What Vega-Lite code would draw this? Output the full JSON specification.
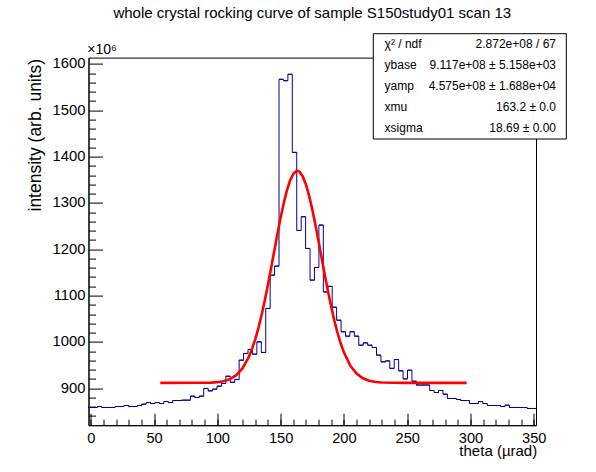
{
  "$schema": "https://vega.github.io/schema/vega-lite/v6.json",
  "width": 447.5,
  "height": 367.6,
  "autosize": {"type": "none"},
  "padding": {"left": 88.5, "top": 57.6, "right": 60, "bottom": 46.8},
  "background": "white",
  "title": {
    "text": "whole crystal rocking curve of sample S150study01 scan 13",
    "font": "Liberation Sans", "fontSize": 15, "fontWeight": "normal", "color": "black",
    "anchor": "middle", "frame": "group", "baseline": "alphabetic", "offset": 0
  },
  "config": {
    "view": {"stroke": "black", "strokeWidth": 1},
    "font": "Liberation Sans"
  },
  "datasets": {
    "hist": [
      {"lo": -1.75, "hi": 1.75, "v": 858.5}, {"lo": 1.75, "hi": 5.25, "v": 858.5}, {"lo": 5.25, "hi": 8.75, "v": 860.6},
      {"lo": 8.75, "hi": 12.25, "v": 858.5}, {"lo": 12.25, "hi": 15.75, "v": 858.5}, {"lo": 15.75, "hi": 19.25, "v": 858.5},
      {"lo": 19.25, "hi": 22.75, "v": 860.6}, {"lo": 22.75, "hi": 26.25, "v": 860.6}, {"lo": 26.25, "hi": 29.75, "v": 862.8},
      {"lo": 29.75, "hi": 33.25, "v": 860.6}, {"lo": 33.25, "hi": 36.75, "v": 860.6}, {"lo": 36.75, "hi": 40.25, "v": 862.8},
      {"lo": 40.25, "hi": 43.75, "v": 865.7}, {"lo": 43.75, "hi": 47.25, "v": 869.2}, {"lo": 47.25, "hi": 50.75, "v": 867.1},
      {"lo": 50.75, "hi": 54.25, "v": 869.2}, {"lo": 54.25, "hi": 57.75, "v": 867.1}, {"lo": 57.75, "hi": 61.25, "v": 871.4},
      {"lo": 61.25, "hi": 64.75, "v": 869.2}, {"lo": 64.75, "hi": 68.25, "v": 873.6}, {"lo": 68.25, "hi": 71.75, "v": 873.6},
      {"lo": 71.75, "hi": 75.25, "v": 874.3}, {"lo": 75.25, "hi": 78.75, "v": 874.3}, {"lo": 78.75, "hi": 82.25, "v": 883.0},
      {"lo": 82.25, "hi": 85.75, "v": 880.1}, {"lo": 85.75, "hi": 89.25, "v": 883.0}, {"lo": 89.25, "hi": 92.75, "v": 899.6},
      {"lo": 92.75, "hi": 96.25, "v": 894.4}, {"lo": 96.25, "hi": 99.75, "v": 898.1}, {"lo": 99.75, "hi": 103.25, "v": 904.5},
      {"lo": 103.25, "hi": 106.75, "v": 910.3}, {"lo": 106.75, "hi": 110.25, "v": 926.0}, {"lo": 110.25, "hi": 113.75, "v": 913.0},
      {"lo": 113.75, "hi": 117.25, "v": 919.0}, {"lo": 117.25, "hi": 120.75, "v": 960.7}, {"lo": 120.75, "hi": 124.25, "v": 975.2},
      {"lo": 124.25, "hi": 127.75, "v": 983.8}, {"lo": 127.75, "hi": 131.25, "v": 973.7}, {"lo": 131.25, "hi": 134.75, "v": 1000.2},
      {"lo": 134.75, "hi": 138.25, "v": 977.3}, {"lo": 138.25, "hi": 141.75, "v": 1072.3}, {"lo": 141.75, "hi": 145.25, "v": 1144.3},
      {"lo": 145.25, "hi": 148.75, "v": 1163.7}, {"lo": 148.75, "hi": 152.25, "v": 1566.9}, {"lo": 152.25, "hi": 155.75, "v": 1564.0},
      {"lo": 155.75, "hi": 159.25, "v": 1577.7}, {"lo": 159.25, "hi": 162.75, "v": 1409.2}, {"lo": 162.75, "hi": 166.25, "v": 1240.7},
      {"lo": 166.25, "hi": 169.75, "v": 1270.2}, {"lo": 169.75, "hi": 173.25, "v": 1201.8}, {"lo": 173.25, "hi": 176.75, "v": 1133.5},
      {"lo": 176.75, "hi": 180.25, "v": 1160.8}, {"lo": 180.25, "hi": 183.75, "v": 1252.3}, {"lo": 183.75, "hi": 187.25, "v": 1108.0},
      {"lo": 187.25, "hi": 190.75, "v": 1120.0}, {"lo": 190.75, "hi": 194.25, "v": 1075.0}, {"lo": 194.25, "hi": 197.75, "v": 1047.0},
      {"lo": 197.75, "hi": 201.25, "v": 1022.0}, {"lo": 201.25, "hi": 204.75, "v": 1012.5}, {"lo": 204.75, "hi": 208.25, "v": 1022.0},
      {"lo": 208.25, "hi": 211.75, "v": 1012.5}, {"lo": 211.75, "hi": 215.25, "v": 993.0}, {"lo": 215.25, "hi": 218.75, "v": 998.0},
      {"lo": 218.75, "hi": 222.25, "v": 993.0}, {"lo": 222.25, "hi": 225.75, "v": 988.0}, {"lo": 225.75, "hi": 229.25, "v": 971.5},
      {"lo": 229.25, "hi": 232.75, "v": 957.0}, {"lo": 232.75, "hi": 236.25, "v": 959.0}, {"lo": 236.25, "hi": 239.75, "v": 943.0},
      {"lo": 239.75, "hi": 243.25, "v": 962.0}, {"lo": 243.25, "hi": 246.75, "v": 937.6}, {"lo": 246.75, "hi": 250.25, "v": 920.3},
      {"lo": 250.25, "hi": 253.75, "v": 939.0}, {"lo": 253.75, "hi": 257.25, "v": 915.3}, {"lo": 257.25, "hi": 260.75, "v": 907.0},
      {"lo": 260.75, "hi": 264.25, "v": 907.0}, {"lo": 264.25, "hi": 267.75, "v": 907.0}, {"lo": 267.75, "hi": 271.25, "v": 895.2},
      {"lo": 271.25, "hi": 274.75, "v": 890.9}, {"lo": 274.75, "hi": 278.25, "v": 895.2}, {"lo": 278.25, "hi": 281.75, "v": 887.3},
      {"lo": 281.75, "hi": 285.25, "v": 878.0}, {"lo": 285.25, "hi": 288.75, "v": 878.0}, {"lo": 288.75, "hi": 292.25, "v": 875.8},
      {"lo": 292.25, "hi": 295.75, "v": 873.6}, {"lo": 295.75, "hi": 299.25, "v": 873.6}, {"lo": 299.25, "hi": 302.75, "v": 867.1},
      {"lo": 302.75, "hi": 306.25, "v": 867.1}, {"lo": 306.25, "hi": 309.75, "v": 871.4}, {"lo": 309.75, "hi": 313.25, "v": 867.1},
      {"lo": 313.25, "hi": 316.75, "v": 862.8}, {"lo": 316.75, "hi": 320.25, "v": 862.8}, {"lo": 320.25, "hi": 323.75, "v": 862.8},
      {"lo": 323.75, "hi": 327.25, "v": 860.6}, {"lo": 327.25, "hi": 330.75, "v": 863.5}, {"lo": 330.75, "hi": 334.25, "v": 858.5},
      {"lo": 334.25, "hi": 337.75, "v": 858.5}, {"lo": 337.75, "hi": 341.25, "v": 858.5}, {"lo": 341.25, "hi": 344.75, "v": 858.5},
      {"lo": 344.75, "hi": 348.25, "v": 856.4}, {"lo": 348.25, "hi": 351.75, "v": 856.4}
    ],
    "fit": [
      {"t": 55, "f": 911.7}, {"t": 85, "f": 911.8}, {"t": 95, "f": 912.3}, {"t": 100, "f": 913.2},
      {"t": 105, "f": 915.3}, {"t": 110, "f": 919.7}, {"t": 115, "f": 928.2}, {"t": 120, "f": 943.4},
      {"t": 125, "f": 968.4}, {"t": 127.5, "f": 985.5}, {"t": 130, "f": 1006.2}, {"t": 132.5, "f": 1030.4},
      {"t": 135, "f": 1058.3}, {"t": 137.5, "f": 1089.4}, {"t": 140, "f": 1123.4}, {"t": 142.5, "f": 1159.5},
      {"t": 145, "f": 1196.5}, {"t": 147.5, "f": 1233.2}, {"t": 150, "f": 1268.2}, {"t": 152.5, "f": 1300.0},
      {"t": 155, "f": 1327.2}, {"t": 157.5, "f": 1348.4}, {"t": 160, "f": 1362.5}, {"t": 162.5, "f": 1368.9},
      {"t": 163.2, "f": 1369.2}, {"t": 165, "f": 1367.1}, {"t": 167.5, "f": 1357.3}, {"t": 170, "f": 1339.9},
      {"t": 172.5, "f": 1315.9}, {"t": 175, "f": 1286.5}, {"t": 177.5, "f": 1253.1}, {"t": 180, "f": 1217.2},
      {"t": 182.5, "f": 1180.1}, {"t": 185, "f": 1143.4}, {"t": 187.5, "f": 1108.2}, {"t": 190, "f": 1075.3},
      {"t": 192.5, "f": 1045.6}, {"t": 195, "f": 1019.3}, {"t": 197.5, "f": 996.6}, {"t": 200, "f": 977.6},
      {"t": 205, "f": 949.2}, {"t": 210, "f": 931.6}, {"t": 215, "f": 921.5}, {"t": 220, "f": 916.2},
      {"t": 225, "f": 913.6}, {"t": 230, "f": 912.5}, {"t": 240, "f": 911.8}, {"t": 250, "f": 911.7},
      {"t": 297, "f": 911.7}
    ],
    "stats": [
      {"k": "χ² / ndf", "val": "2.872e+08 / 67"},
      {"k": "ybase", "val": "9.117e+08 ± 5.158e+03"},
      {"k": "yamp", "val": "4.575e+08 ± 1.688e+04"},
      {"k": "xmu", "val": "163.2 ± 0.0"},
      {"k": "xsigma", "val": "18.69 ± 0.00"}
    ]
  },
  "resolve": {"axis": {"x": "independent", "y": "independent"}},
  "layer": [
    {
      "data": {"name": "hist"},
      "mark": {"type": "line", "interpolate": "step-after", "color": "#000099", "strokeWidth": 1},
      "encoding": {
        "x": {
          "field": "lo", "type": "quantitative",
          "scale": {"domain": [-1.75, 351.75], "nice": false, "zero": false},
          "axis": {
            "orient": "bottom", "values": [0, 50, 100, 150, 200, 250, 300, 350], "format": "d",
            "tickSize": -12, "tickColor": "black", "tickWidth": 1, "domainColor": "black",
            "labelFont": "Liberation Sans", "labelFontSize": 14.6, "labelColor": "black",
            "labelPadding": 16.8, "labelFlush": false, "labelOverlap": false, "grid": false,
            "title": "theta (µrad)", "titleFont": "Liberation Sans", "titleFontSize": 15,
            "titleFontWeight": "normal", "titleColor": "black", "titleX": 448.2, "titleY": 30,
            "titleAlign": "right", "titleBaseline": "alphabetic"
          }
        },
        "y": {
          "field": "v", "type": "quantitative",
          "scale": {"domain": [820.3, 1613.8], "nice": false, "zero": false},
          "axis": {
            "orient": "left", "values": [900, 1000, 1100, 1200, 1300, 1400, 1500, 1600], "format": "d",
            "tickSize": -14, "tickColor": "black", "tickWidth": 1, "domainColor": "black",
            "labelFont": "Liberation Sans", "labelFontSize": 14.8, "labelColor": "black",
            "labelPadding": 17.5, "labelFlush": false, "labelOverlap": false, "grid": false,
            "title": "intensity (arb. units)", "titleFont": "Liberation Sans", "titleFontSize": 17.5,
            "titleFontWeight": "normal", "titleColor": "black", "titleAngle": 270,
            "titleX": -48.5, "titleY": 0.7, "titleAlign": "right", "titleBaseline": "alphabetic"
          }
        }
      }
    },
    {
      "data": {"name": "hist"},
      "mark": {"type": "rule", "color": "#000099", "strokeWidth": 1},
      "encoding": {
        "x": {
          "field": "lo", "type": "quantitative",
          "axis": {
            "orient": "bottom", "values": [0, 10, 20, 30, 40, 50, 60, 70, 80, 90, 100, 110, 120, 130, 140, 150, 160, 170, 180, 190, 200, 210, 220, 230, 240, 250, 260, 270, 280, 290, 300, 310, 320, 330, 340, 350],
            "tickSize": -6, "tickColor": "black", "tickWidth": 1, "labels": false, "domain": false,
            "grid": false, "title": null
          }
        },
        "x2": {"field": "hi"},
        "y": {
          "field": "v", "type": "quantitative",
          "axis": {
            "orient": "left", "values": [840, 860, 880, 920, 940, 960, 980, 1020, 1040, 1060, 1080, 1120, 1140, 1160, 1180, 1220, 1240, 1260, 1280, 1320, 1340, 1360, 1380, 1420, 1440, 1460, 1480, 1520, 1540, 1560, 1580],
            "tickSize": -7, "tickColor": "black", "tickWidth": 1, "labels": false, "domain": false,
            "grid": false, "title": "×10⁶", "titleFont": "Liberation Sans", "titleFontSize": 14,
            "titleFontWeight": "normal", "titleColor": "black", "titleAngle": 0,
            "titleX": -1.8, "titleY": -4.6, "titleAlign": "left", "titleBaseline": "alphabetic"
          }
        }
      }
    },
    {
      "data": {"name": "fit"},
      "mark": {"type": "line", "color": "#ff0000", "strokeWidth": 2.6},
      "encoding": {
        "x": {"field": "t", "type": "quantitative", "axis": null},
        "y": {"field": "f", "type": "quantitative", "axis": null}
      }
    },
    {
      "data": {"name": "stats"},
      "mark": {"type": "point", "filled": true, "size": 0},
      "encoding": {
        "color": {
          "datum": "fit box",
          "scale": {"range": ["white"]},
          "legend": {
            "orient": "none", "legendX": 284.3, "legendY": -24.4, "title": null, "padding": 0,
            "symbolType": "M-1,-1H1V0.0912H-1Z", "symbolSize": 37249,
            "symbolFillColor": "white", "symbolStrokeColor": "black", "symbolStrokeWidth": 1,
            "symbolOpacity": 1, "labelOpacity": 0, "labelFontSize": 1, "labelOffset": 0
          }
        },
        "shape": {
          "field": "k", "type": "nominal",
          "scale": {"domain": ["χ² / ndf", "ybase", "yamp", "xmu", "xsigma"]},
          "legend": {
            "orient": "none", "legendX": 280.1, "legendY": -19.4, "title": null, "padding": 0,
            "rowPadding": 9.06, "labelFont": "Liberation Sans", "labelFontSize": 12, "labelColor": "black",
            "labelOffset": 4, "symbolSize": 1, "symbolStrokeWidth": 0, "symbolOpacity": 0, "labelLimit": 300
          }
        },
        "strokeDash": {
          "field": "val", "type": "nominal",
          "scale": {"domain": ["2.872e+08 / 67", "9.117e+08 ± 5.158e+03", "4.575e+08 ± 1.688e+04", "163.2 ± 0.0", "18.69 ± 0.00"]},
          "legend": {
            "orient": "none", "legendX": 451.5, "legendY": -19.4, "title": null, "padding": 0,
            "rowPadding": 9.06, "labelFont": "Liberation Sans", "labelFontSize": 12, "labelColor": "black",
            "labelAlign": "right", "labelOffset": 4, "symbolSize": 1, "symbolStrokeWidth": 0,
            "symbolOpacity": 0, "labelLimit": 300
          }
        }
      }
    }
  ]
}
